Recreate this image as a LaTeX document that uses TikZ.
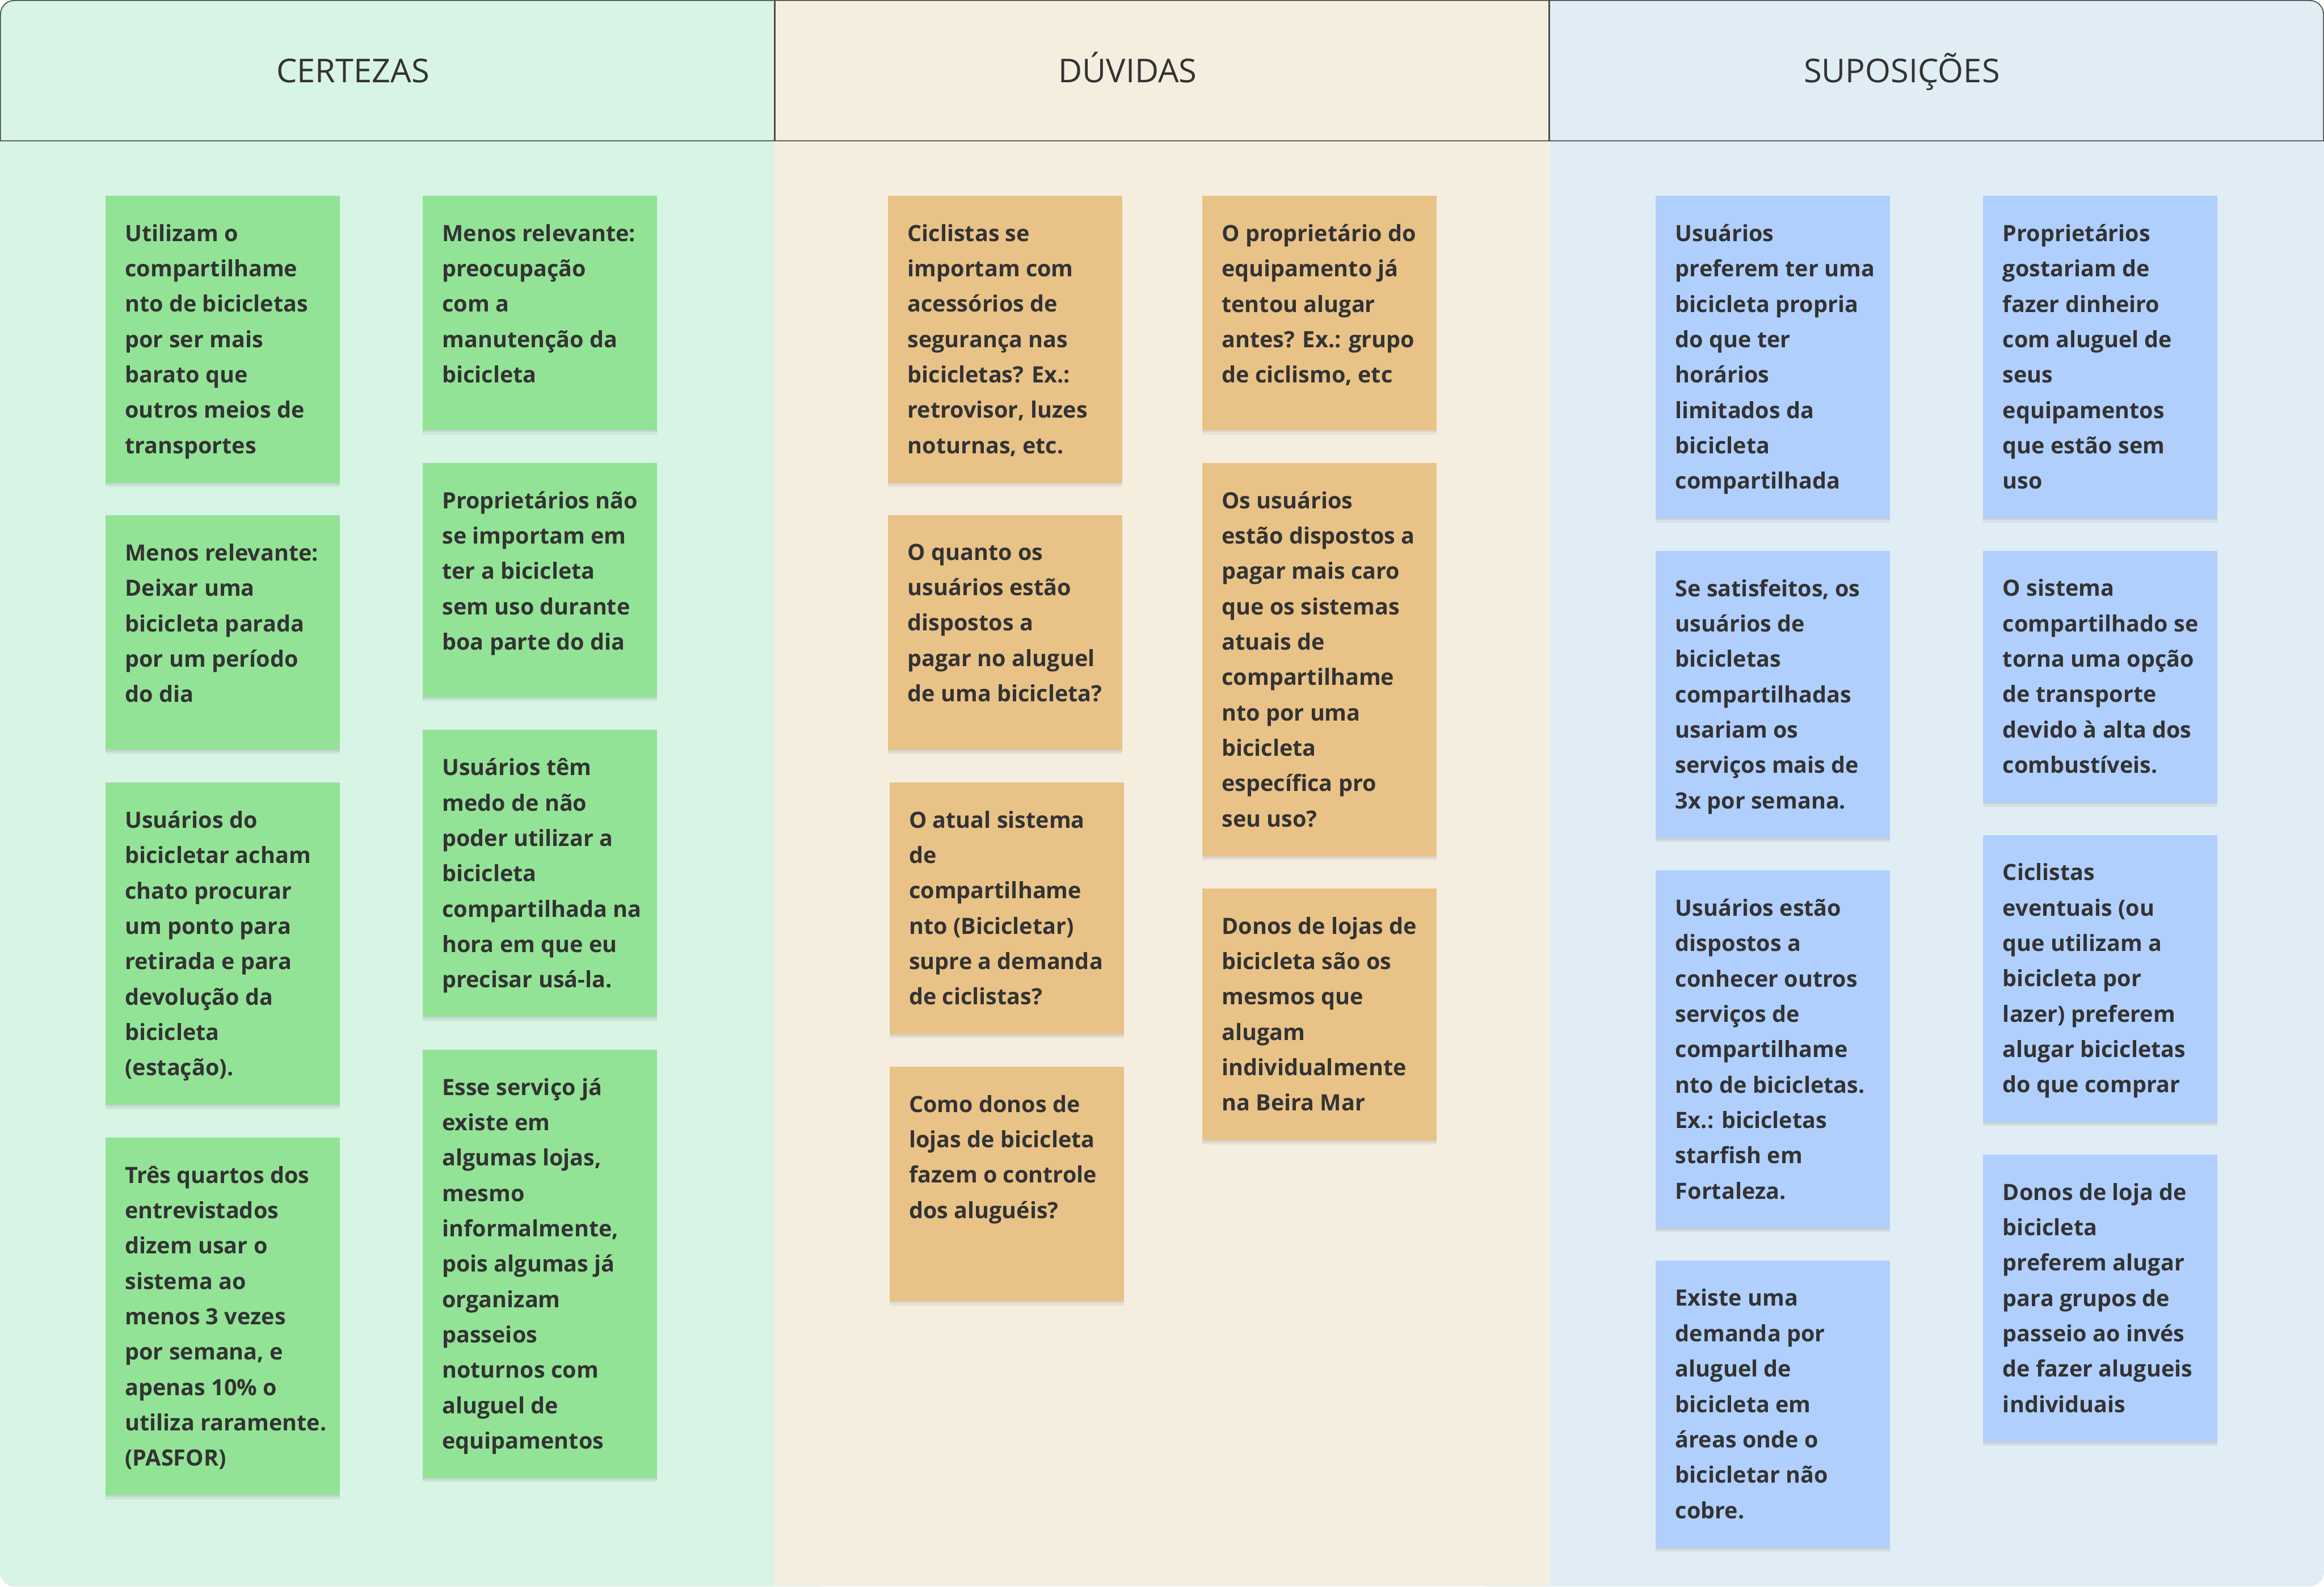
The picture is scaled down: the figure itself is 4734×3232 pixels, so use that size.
\documentclass[tikz,border=0pt]{standalone}
\usepackage{fontspec}
\setmainfont{Open Sans}
\definecolor{greenbg}{HTML}{D8F4E5}
\definecolor{beigebg}{HTML}{F5EEDF}
\definecolor{bluebg}{HTML}{E0EDF5}
\definecolor{gnotec}{HTML}{93E397}
\definecolor{onotec}{HTML}{E9C287}
\definecolor{bnotec}{HTML}{B0CFFD}
\definecolor{framec}{HTML}{4A4E49}
\definecolor{textc}{HTML}{333333}
\newcommand\notefont{\fontsize{13.0pt}{20.49pt}\selectfont\bfseries}
\newcommand\headfont{\fontsize{19pt}{23pt}\selectfont}
\tikzset{
  note/.style={rectangle, anchor=north west, inner sep=0pt, minimum width=4.77cm,
    preaction={fill=black, opacity=0.05, transform canvas={yshift=-0.09cm}},
    preaction={fill=black, opacity=0.07, transform canvas={yshift=-0.04cm}}},
  gnote/.style={note, fill=gnotec},
  onote/.style={note, fill=onotec},
  bnote/.style={note, fill=bnotec},
  ntext/.style={anchor=north west, align=left, inner xsep=0.4cm, inner ysep=0.58cm,
    text=textc, font=\notefont, execute at begin node=\strut},
  head/.style={text=textc, font=\headfont, anchor=base},
  frame/.style={draw=framec, line width=0.02cm},
  divider/.style={draw=framec, line width=0.04cm}
}
\begin{document}
\begin{tikzpicture}[x=0.01cm, y=-0.01cm]
\useasboundingbox (0,0) rectangle (4734,3232);
% backgrounds
\fill[greenbg, rounded corners=0.3cm] (0,0) rectangle (1700,3232);
\fill[bluebg, rounded corners=0.3cm] (3000,0) rectangle (4734,3232);
\fill[beigebg] (1578,0) rectangle (3156,3232);
% header frame
\draw[frame] (1,287) -- (1,29) arc[start angle=180, end angle=90, radius=0.28cm]
  -- (4705,1) arc[start angle=90, end angle=0, radius=0.28cm] -- (4733,287) -- cycle;
\draw[divider] (1578,1) -- (1578,287);
\draw[divider] (3156,1) -- (3156,287);
\node[head] (h1) at (719,168) {CERTEZAS};
\node[head] (h2) at (2297,168) {DÚVIDAS};
\node[head] (h3) at (3874,168) {SUPOSIÇÕES};

% CERTEZAS column 1
\node[gnote, minimum height=5.84cm] (c11) at (214,398) {};
\node[ntext] (c11t) at (c11.north west) {Utilizam o\\compartilhame\\nto de bicicletas\\por ser mais\\barato que\\outros meios de\\transportes};
\node[gnote, minimum height=4.77cm] (c12) at (214,1049) {};
\node[ntext] (c12t) at (c12.north west) {Menos relevante:\\Deixar uma\\bicicleta parada\\por um período\\do dia};
\node[gnote, minimum height=6.56cm] (c13) at (214,1593) {};
\node[ntext] (c13t) at (c13.north west) {Usuários do\\bicicletar acham\\chato procurar\\um ponto para\\retirada e para\\devolução da\\bicicleta\\(estação).};
\node[gnote, minimum height=7.28cm] (c14) at (214,2316) {};
\node[ntext] (c14t) at (c14.north west) {Três quartos dos\\entrevistados\\dizem usar o\\sistema ao\\menos 3 vezes\\por semana, e\\apenas 10\% o\\utiliza raramente.\\(PASFOR)};

% CERTEZAS column 2
\node[gnote, minimum height=4.77cm] (c21) at (860,398) {};
\node[ntext] (c21t) at (c21.north west) {Menos relevante:\\preocupação\\com a\\manutenção da\\bicicleta};
\node[gnote, minimum height=4.77cm] (c22) at (860,942) {};
\node[ntext] (c22t) at (c22.north west) {Proprietários não\\se importam em\\ter a bicicleta\\sem uso durante\\boa parte do dia};
\node[gnote, minimum height=5.84cm] (c23) at (860,1486) {};
\node[ntext] (c23t) at (c23.north west) {Usuários têm\\medo de não\\poder utilizar a\\bicicleta\\compartilhada na\\hora em que eu\\precisar usá-la.};
\node[gnote, minimum height=8.72cm] (c24) at (860,2137) {};
\node[ntext] (c24t) at (c24.north west) {Esse serviço já\\existe em\\algumas lojas,\\mesmo\\informalmente,\\pois algumas já\\organizam\\passeios\\noturnos com\\aluguel de\\equipamentos};

% DUVIDAS column 1
\node[onote, minimum height=5.84cm] (d11) at (1808,398) {};
\node[ntext] (d11t) at (d11.north west) {Ciclistas se\\importam com\\acessórios de\\segurança nas\\bicicletas? Ex.:\\retrovisor, luzes\\noturnas, etc.};
\node[onote, minimum height=4.77cm] (d12) at (1808,1049) {};
\node[ntext] (d12t) at (d12.north west) {O quanto os\\usuários estão\\dispostos a\\pagar no aluguel\\de uma bicicleta?};
\node[onote, minimum height=5.12cm] (d13) at (1811,1593) {};
\node[ntext] (d13t) at (d13.north west) {O atual sistema\\de\\compartilhame\\nto (Bicicletar)\\supre a demanda\\de ciclistas?};
\node[onote, minimum height=4.77cm] (d14) at (1811,2172) {};
\node[ntext] (d14t) at (d14.north west) {Como donos de\\lojas de bicicleta\\fazem o controle\\dos aluguéis?};

% DUVIDAS column 2
\node[onote, minimum height=4.77cm] (d21) at (2448,398) {};
\node[ntext] (d21t) at (d21.north west) {O proprietário do\\equipamento já\\tentou alugar\\antes? Ex.: grupo\\de ciclismo, etc};
\node[onote, minimum height=8.00cm] (d22) at (2448,942) {};
\node[ntext] (d22t) at (d22.north west) {Os usuários\\estão dispostos a\\pagar mais caro\\que os sistemas\\atuais de\\compartilhame\\nto por uma\\bicicleta\\específica pro\\seu uso?};
\node[onote, minimum height=5.12cm] (d23) at (2448,1809) {};
\node[ntext] (d23t) at (d23.north west) {Donos de lojas de\\bicicleta são os\\mesmos que\\alugam\\individualmente\\na Beira Mar};

% SUPOSICOES column 1
\node[bnote, minimum height=6.56cm] (s11) at (3372,398) {};
\node[ntext] (s11t) at (s11.north west) {Usuários\\preferem ter uma\\bicicleta propria\\do que ter\\horários\\limitados da\\bicicleta\\compartilhada};
\node[bnote, minimum height=5.84cm] (s12) at (3372,1121) {};
\node[ntext] (s12t) at (s12.north west) {Se satisfeitos, os\\usuários de\\bicicletas\\compartilhadas\\usariam os\\serviços mais de\\3x por semana.};
\node[bnote, minimum height=7.28cm] (s13) at (3372,1772) {};
\node[ntext] (s13t) at (s13.north west) {Usuários estão\\dispostos a\\conhecer outros\\serviços de\\compartilhame\\nto de bicicletas.\\Ex.: bicicletas\\starfish em\\Fortaleza.};
\node[bnote, minimum height=5.84cm] (s14) at (3372,2567) {};
\node[ntext] (s14t) at (s14.north west) {Existe uma\\demanda por\\aluguel de\\bicicleta em\\áreas onde o\\bicicletar não\\cobre.};

% SUPOSICOES column 2
\node[bnote, minimum height=6.56cm] (s21) at (4039,398) {};
\node[ntext] (s21t) at (s21.north west) {Proprietários\\gostariam de\\fazer dinheiro\\com aluguel de\\seus\\equipamentos\\que estão sem\\uso};
\node[bnote, minimum height=5.12cm] (s22) at (4039,1121) {};
\node[ntext] (s22t) at (s22.north west) {O sistema\\compartilhado se\\torna uma opção\\de transporte\\devido à alta dos\\combustíveis.};
\node[bnote, minimum height=5.84cm] (s23) at (4039,1700) {};
\node[ntext] (s23t) at (s23.north west) {Ciclistas\\eventuais (ou\\que utilizam a\\bicicleta por\\lazer) preferem\\alugar bicicletas\\do que comprar};
\node[bnote, minimum height=5.84cm] (s24) at (4039,2351) {};
\node[ntext] (s24t) at (s24.north west) {Donos de loja de\\bicicleta\\preferem alugar\\para grupos de\\passeio ao invés\\de fazer alugueis\\individuais};
\end{tikzpicture}
\end{document}
